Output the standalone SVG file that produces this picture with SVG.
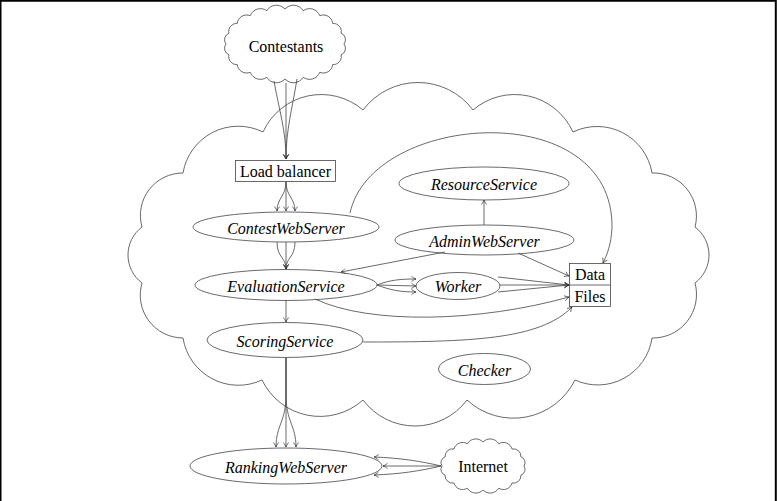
<svg xmlns="http://www.w3.org/2000/svg" width="777" height="501" viewBox="0 0 777 501">
<style>
.ln{fill:none;stroke:#444;stroke-width:0.8}
.nd{fill:none;stroke:#444;stroke-width:0.8}
.t{font-family:"Liberation Serif","Times New Roman",serif;font-size:16px;fill:#000;text-anchor:middle;dominant-baseline:central}
.i{font-style:italic}
</style>
<defs>
<marker id="ah" viewBox="-6 -4 7 8" refX="0" refY="0" markerWidth="7" markerHeight="8" markerUnits="userSpaceOnUse" orient="auto">
<path d="M-4.5,-2.6 Q-2,-0.6 0,0 Q-2,0.6 -4.5,2.6" fill="none" stroke="#333" stroke-width="0.7"/>
</marker>
</defs>
<rect width="777" height="501" fill="#fff"/>
<path d="M0.5,501 V0.7 H775.8 V501" fill="none" stroke="#000" stroke-width="2"/>

<g id="cloud-main">
<path class="nd" d="M363,110 A68.75,68.75 0 0 1 473,110 A64,64 0 0 1 573,132 A55.6,55.6 0 0 1 652,173 A43,43 0 0 1 695,227 A35,35 0 0 1 695,283 A43.6,43.6 0 0 1 652,338 A54.8,54.8 0 0 1 575,380 A68.6,68.6 0 0 1 467,400 A65,65 0 0 1 363,400 A64.4,64.4 0 0 1 262,380 A56,56 0 0 1 183,338 A42.9,42.9 0 0 1 142,283 A35,35 0 0 1 142,227 A42.4,42.4 0 0 1 183,173 A56,56 0 0 1 263,132 A64,64 0 0 1 363,110 Z"/>
</g>

<g id="connectors">
<!-- Contestants -> Load balancer -->
<path class="ln" d="M274,81 C279,110 286,130 286,159" marker-end="url(#ah)"/>
<path class="ln" d="M286,83 L286,159" marker-end="url(#ah)"/>
<path class="ln" d="M297,79 C292,110 286,130 286,159" marker-end="url(#ah)"/>
<!-- Load balancer -> ContestWebServer -->
<path class="ln" d="M286,182 C286,196 277,198 277,211" marker-end="url(#ah)"/>
<path class="ln" d="M286,182 L286,211" marker-end="url(#ah)"/>
<path class="ln" d="M286,182 C286,196 295,198 295,211" marker-end="url(#ah)"/>
<!-- ContestWebServer -> EvaluationService -->
<path class="ln" d="M277,242 C277,258 286,257 286,269" marker-end="url(#ah)"/>
<path class="ln" d="M286,242 L286,269" marker-end="url(#ah)"/>
<path class="ln" d="M295,242 C295,258 286,257 286,269" marker-end="url(#ah)"/>
<!-- ContestWebServer -> Data -->
<path class="ln" d="M350,213 C372,112 614,95 612,228 C611,245 607,255 603,263" marker-end="url(#ah)"/>
<!-- AdminWebServer -> ResourceService -->
<path class="ln" d="M484,225 L484,200" marker-end="url(#ah)"/>
<!-- AdminWebServer -> EvaluationService -->
<path class="ln" d="M445,252 L341,272" marker-end="url(#ah)"/>
<!-- AdminWebServer -> Data -->
<path class="ln" d="M518,253 L569,276" marker-end="url(#ah)"/>
<!-- EvaluationService -> Worker -->
<path class="ln" d="M377,285 C390,280 400,279 416,279" marker-end="url(#ah)"/>
<path class="ln" d="M377,285 L416,286" marker-end="url(#ah)"/>
<path class="ln" d="M377,285 C390,290 400,292 416,292" marker-end="url(#ah)"/>
<!-- Worker -> Data/Files -->
<path class="ln" d="M498,277 L569,285" marker-end="url(#ah)"/>
<path class="ln" d="M500,285 L569,285" marker-end="url(#ah)"/>
<path class="ln" d="M498,292 L569,285" marker-end="url(#ah)"/>
<!-- EvaluationService -> Files -->
<path class="ln" d="M315,299 C370,325 480,322 569,297" marker-end="url(#ah)"/>
<!-- EvaluationService -> ScoringService -->
<path class="ln" d="M286,300 L286,322" marker-end="url(#ah)"/>
<!-- ScoringService -> Files -->
<path class="ln" d="M363,342 C470,342 540,340 572,307" marker-end="url(#ah)"/>
<!-- ScoringService -> RankingWebServer -->
<path class="ln" d="M286,358 L286,395 C286,422 276,425 276,447" marker-end="url(#ah)"/>
<path class="ln" d="M286,358 L286,447" marker-end="url(#ah)"/>
<path class="ln" d="M286,358 L286,395 C286,422 296,425 296,447" marker-end="url(#ah)"/>
<!-- Internet -> RankingWebServer -->
<path class="ln" d="M441,466 C420,461 400,458 374,457" marker-end="url(#ah)"/>
<path class="ln" d="M441,466 L383,466" marker-end="url(#ah)"/>
<path class="ln" d="M441,466 C420,471 400,474 374,475" marker-end="url(#ah)"/>
</g>

<g id="contestants">
<path class="nd" fill="#fff" d="M344,44 A7,7 0 0 1 341.1,54.8 A8.1,8.1 0 0 1 332.7,64.6 A9.4,9.4 0 0 1 319.7,72.3 A10.8,10.8 0 0 1 303.2,77.3 A11.4,11.4 0 0 1 285,79 A11.4,11.4 0 0 1 266.8,77.3 A10.8,10.8 0 0 1 250.3,72.3 A9.4,9.4 0 0 1 237.3,64.6 A8.1,8.1 0 0 1 228.9,54.8 A7,7 0 0 1 226,44 A7,7 0 0 1 228.9,33.2 A8.1,8.1 0 0 1 237.3,23.4 A9.4,9.4 0 0 1 250.3,15.7 A10.8,10.8 0 0 1 266.8,10.7 A11.4,11.4 0 0 1 285,9 A11.4,11.4 0 0 1 303.2,10.7 A10.8,10.8 0 0 1 319.7,15.7 A9.4,9.4 0 0 1 332.7,23.4 A8.1,8.1 0 0 1 341.1,33.2 A7,7 0 0 1 344,44 Z"/>
<text class="t" x="286" y="46">Contestants</text>
</g>

<g id="load-balancer">
<rect class="nd" x="235.5" y="160.5" width="100" height="21"/>
<text class="t" x="285.5" y="171">Load balancer</text>
</g>

<g id="contest-web-server">
<ellipse class="nd" cx="286" cy="227" rx="93" ry="15"/>
<text class="t i" x="286" y="228">ContestWebServer</text>
</g>

<g id="admin-web-server">
<ellipse class="nd" cx="484.5" cy="240" rx="89.5" ry="15"/>
<text class="t i" x="484.5" y="241">AdminWebServer</text>
</g>

<g id="resource-service">
<ellipse class="nd" cx="484" cy="183.5" rx="85" ry="16.5"/>
<text class="t i" x="484" y="184">ResourceService</text>
</g>

<g id="evaluation-service">
<ellipse class="nd" cx="286" cy="285" rx="91" ry="15.5"/>
<text class="t i" x="286" y="286">EvaluationService</text>
</g>

<g id="worker">
<ellipse class="nd" cx="458" cy="286" rx="42" ry="13.5"/>
<text class="t i" x="458" y="286">Worker</text>
</g>

<g id="data-files">
<rect class="nd" x="569.5" y="263.5" width="41" height="43"/>
<line class="nd" x1="569.5" y1="285" x2="610.5" y2="285"/>
<text class="t" x="590" y="274">Data</text>
<text class="t" x="590" y="296">Files</text>
</g>

<g id="scoring-service">
<ellipse class="nd" cx="285" cy="340" rx="78" ry="17.5"/>
<text class="t i" x="285" y="341">ScoringService</text>
</g>

<g id="checker">
<ellipse class="nd" cx="484.5" cy="369" rx="46" ry="15.5"/>
<text class="t i" x="484.5" y="370">Checker</text>
</g>

<g id="ranking-web-server">
<ellipse class="nd" cx="286" cy="466" rx="96" ry="18"/>
<text class="t i" x="286" y="467">RankingWebServer</text>
</g>

<g id="internet">
<path class="nd" fill="#fff" d="M524,466 A6.1,6.1 0 0 1 520.9,475.2 A7.4,7.4 0 0 1 512,483 A8.9,8.9 0 0 1 498.7,488.2 A9.9,9.9 0 0 1 483,490 A9.9,9.9 0 0 1 467.3,488.2 A8.9,8.9 0 0 1 454,483 A7.4,7.4 0 0 1 445.1,475.2 A6.1,6.1 0 0 1 442,466 A6.1,6.1 0 0 1 445.1,456.8 A7.4,7.4 0 0 1 454,449 A8.9,8.9 0 0 1 467.3,443.8 A9.9,9.9 0 0 1 483,442 A9.9,9.9 0 0 1 498.7,443.8 A8.9,8.9 0 0 1 512,449 A7.4,7.4 0 0 1 520.9,456.8 A6.1,6.1 0 0 1 524,466 Z"/>
<text class="t" x="483" y="466">Internet</text>
</g>
</svg>
